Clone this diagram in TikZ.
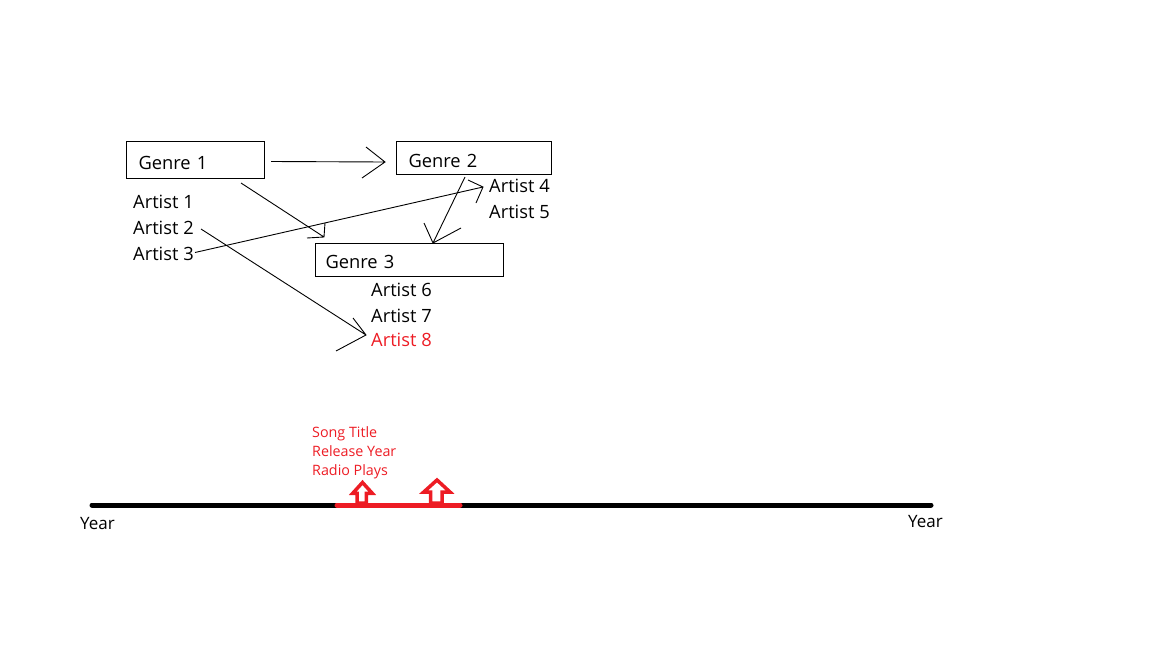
\documentclass[tikz,border=0pt]{standalone}
\usepackage{fontspec}
\setmainfont{Open Sans}
\definecolor{pred}{RGB}{237,28,36}
\begin{document}
\begin{tikzpicture}[x=1pt,y=-1pt,
  genre/.style={draw=black,line width=1pt,rectangle,inner ysep=0pt,font=\fontsize{18.3}{21}\selectfont,anchor=north west,align=left,text depth=0pt},
  artist/.style={anchor=west,inner sep=0pt,font=\fontsize{18.3}{21}\selectfont},
  small/.style={anchor=base west,inner sep=0pt,text=pred,font=\fontsize{14.3}{16}\selectfont},
  yr/.style={anchor=west,inner sep=0pt,font=\fontsize{17}{19}\selectfont},
  thin/.style={line width=0.9pt},
  uparrow/.style={draw=pred,fill=white,line width=3.5pt,line join=miter}]
\useasboundingbox (0,0) rectangle (1152,648);
% genre boxes
\node[genre,minimum width=138pt,minimum height=37pt,text width=114pt,inner xsep=12pt,text height=18pt] (g1) at (126,141) {Genre 1};
\node[genre,minimum width=155pt,minimum height=33pt,text width=131pt,inner xsep=12pt,text height=18pt] (g2) at (396,141) {Genre 2};
\node[genre,minimum width=188pt,minimum height=33pt,text width=168pt,inner xsep=10pt,text height=16pt] (g3) at (315,243) {Genre 3};
% artists
\node[artist] (a1) at (133,201.5) {Artist 1};
\node[artist] (a2) at (133,227.5) {Artist 2};
\node[artist] (a3) at (133,253.5) {Artist 3};
\node[artist] (a4) at (489,185.5) {Artist 4};
\node[artist] (a5) at (489,211.5) {Artist 5};
\node[artist] (a6) at (371,289.5) {Artist 6};
\node[artist] (a7) at (371,315.5) {Artist 7};
\node[artist,text=pred] (a8) at (371,339.5) {Artist 8};
% connector end points
\coordinate (s12) at (271,161.5);
\coordinate (t12) at (385,162);
\coordinate (h12a) at (366,147);
\coordinate (h12b) at (362,178);
\coordinate (s13) at (241,183);
\coordinate (t13) at (324,237);
\coordinate (h13a) at (307,238);
\coordinate (h13b) at (325,223);
\coordinate (s34) at (195,252.5);
\coordinate (t34) at (483,187);
\coordinate (h34a) at (468,180);
\coordinate (h34b) at (476,203);
\coordinate (s28) at (201,229);
\coordinate (t28) at (366,335);
\coordinate (h28a) at (353,318);
\coordinate (h28b) at (336,351);
\coordinate (s23) at (465,177);
\coordinate (t23) at (433,243);
\coordinate (h23a) at (424,223);
\coordinate (h23b) at (461,228);
\draw[thin] (s12) -- (t12) (h12a) -- (t12) -- (h12b);
\draw[thin] (s13) -- (t13) (h13a) -- (t13) -- (h13b);
\draw[thin] (s34) -- (t34) (h34a) -- (t34) -- (h34b);
\draw[thin] (s28) -- (t28) (h28a) -- (t28) -- (h28b);
\draw[thin] (s23) -- (t23) (h23a) -- (t23) -- (h23b);
% song info
\node[small] (st) at (312,437.5) {Song Title};
\node[small] (ry) at (312,456.5) {Release Year};
\node[small] (rp) at (312,475.5) {Radio Plays};
% timeline
\coordinate (tl0) at (92,505);
\coordinate (tl1) at (931,505);
\coordinate (r0) at (337,505);
\coordinate (r1) at (460,505);
\draw[line width=5pt,line cap=round] (tl0) -- (tl1);
\draw[pred,line width=5pt,line cap=round] (r0) -- (r1);
\node[yr] (y0) at (80,524) {Year};
\node[yr] (y1) at (908,522) {Year};
% red up arrows
\draw[uparrow] (357,503) -- (357,493.25) -- (352.75,493.25) -- (362.5,482.5) -- (372.25,493.25) -- (366.25,493.25) -- (366.25,503) -- cycle;
\draw[uparrow] (430.5,503) -- (430.5,492) -- (423.75,492) -- (437,480) -- (450,492) -- (442,492) -- (442,503) -- cycle;
\end{tikzpicture}
\end{document}
